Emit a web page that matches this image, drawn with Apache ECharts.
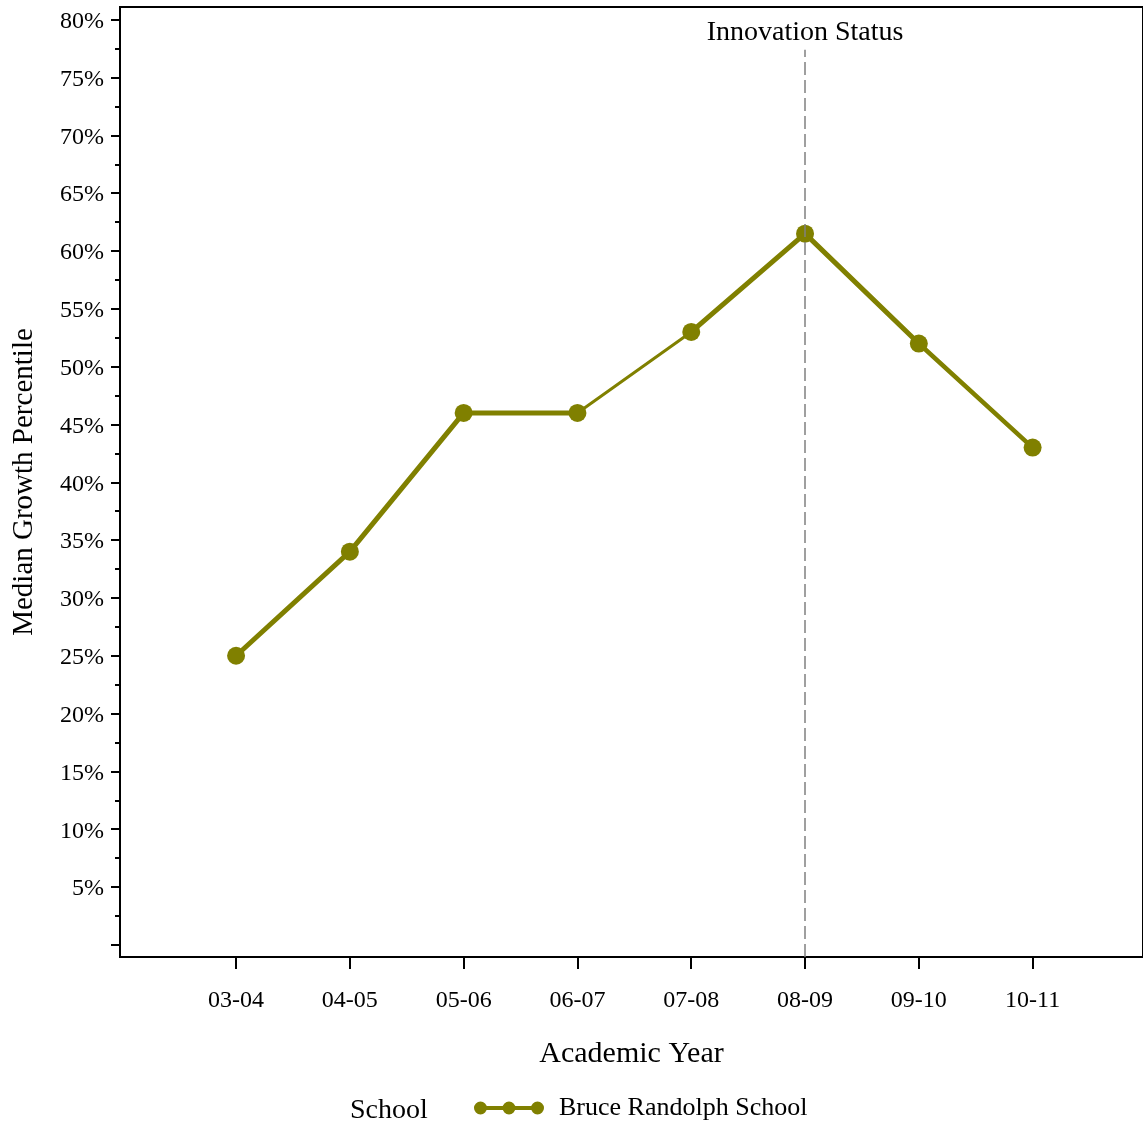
<!DOCTYPE html>
<html>
<head>
<meta charset="utf-8">
<script src="https://cdn.jsdelivr.net/npm/echarts@6/dist/echarts.min.js"></script>
<style>
  html, body { margin: 0; padding: 0; background: #fff; }
  #chart { width: 1143px; height: 1126px; }
</style>
</head>
<body>
<div id="chart"></div>
<script>
// ---- data ----
const years = ['03-04', '04-05', '05-06', '06-07', '07-08', '08-09', '09-10', '10-11'];
const medianGrowth = [25, 34, 46, 46, 53, 61.5, 52, 43];
const segmentWeight = [5, 5, 5, 3, 5, 5, 4.5]; // line thickness between consecutive years
const innovationYear = '08-09';
const yMajorTicks = [0, 5, 10, 15, 20, 25, 30, 35, 40, 45, 50, 55, 60, 65, 70, 75, 80];
const yLabelTicks = [5, 10, 15, 20, 25, 30, 35, 40, 45, 50, 55, 60, 65, 70, 75, 80];
const yMinorTicks = [2.5, 7.5, 12.5, 17.5, 22.5, 27.5, 32.5, 37.5, 42.5, 47.5, 52.5, 57.5, 62.5, 67.5, 72.5, 77.5];
const seriesName = 'Bruce Randolph School';

// ---- chart ----
const OLIVE = '#808000';
const FONT = '"Liberation Serif", "Times New Roman", serif';
const chart = echarts.init(document.getElementById('chart'), null, { renderer: 'canvas' });

const yRange = { min: -1.05, max: 81.1 };
const xIdx = years.map((_, i) => i);
const innovIdx = years.indexOf(innovationYear);

const segmentSeries = [];
for (let i = 0; i < years.length - 1; i++) {
  segmentSeries.push({
    type: 'line',
    name: seriesName,
    data: [[i, medianGrowth[i]], [i + 1, medianGrowth[i + 1]]],
    showSymbol: false,
    symbol: 'none',
    lineStyle: { color: OLIVE, width: segmentWeight[i], cap: 'round', join: 'round' },
    itemStyle: { color: OLIVE },
    silent: true,
    z: 2
  });
}

const legendIcon = 'path://M0,6.5 A6.5,6.5 0 1,1 13,6.5 A6.5,6.5 0 1,1 0,6.5 Z ' +
  'M28.5,6.5 A6.5,6.5 0 1,1 41.5,6.5 A6.5,6.5 0 1,1 28.5,6.5 Z ' +
  'M57,6.5 A6.5,6.5 0 1,1 70,6.5 A6.5,6.5 0 1,1 57,6.5 Z ' +
  'M6.5,4.5 L63.5,4.5 L63.5,8.5 L6.5,8.5 Z';

const option = {
  animation: false,
  backgroundColor: '#fff',
  textStyle: { fontFamily: FONT, color: '#000' },
  title: [{
    text: 'School',
    left: 350,
    top: 1097,
    padding: 0,
    textStyle: { fontFamily: FONT, fontSize: 28, fontWeight: 'normal', color: '#000' }
  }],
  legend: {
    data: [{ name: seriesName, icon: legendIcon }],
    left: 474,
    top: 1095,
    padding: 0,
    itemWidth: 70,
    itemHeight: 13,
    symbolKeepAspect: true,
    itemStyle: { color: OLIVE },
    textStyle: { fontFamily: FONT, fontSize: 26, color: '#000', padding: [4, 0, 0, 10] }
  },
  grid: {
    left: 120, right: 0, top: 7, bottom: 169,
    show: true, borderColor: '#000', borderWidth: 2, backgroundColor: 'transparent'
  },
  xAxis: {
    type: 'value',
    min: -1.02,
    max: 7.97,
    name: 'Academic Year',
    nameLocation: 'middle',
    nameGap: 82,
    nameTextStyle: { fontFamily: FONT, fontSize: 30, color: '#000' },
    axisLine: { show: true, onZero: false, lineStyle: { color: '#000', width: 2 } },
    axisTick: { show: true, length: 12, lineStyle: { color: '#000', width: 2 }, customValues: xIdx },
    axisLabel: {
      fontFamily: FONT, fontSize: 24, color: '#000', margin: 32,
      customValues: xIdx,
      formatter: v => years[Math.round(v)] || ''
    },
    splitLine: { show: false }
  },
  yAxis: [{
    type: 'value',
    min: yRange.min,
    max: yRange.max,
    position: 'left',
    name: 'Median Growth Percentile',
    nameLocation: 'middle',
    nameGap: 81,
    nameTextStyle: { fontFamily: FONT, fontSize: 29, color: '#000' },
    axisLine: { show: true, onZero: false, lineStyle: { color: '#000', width: 2 } },
    axisTick: { show: true, length: 9, lineStyle: { color: '#000', width: 2 }, customValues: yMajorTicks },
    axisLabel: {
      fontFamily: FONT, fontSize: 24, color: '#000', margin: 16,
      verticalAlign: 'top',
      padding: [-10, 0, 0, 0],
      customValues: yLabelTicks,
      formatter: v => v + '%'
    },
    splitLine: { show: false }
  }, {
    type: 'value',
    min: yRange.min,
    max: yRange.max,
    position: 'left',
    axisLine: { show: false, onZero: false },
    axisTick: { show: true, length: 5, lineStyle: { color: '#000', width: 2 }, customValues: yMinorTicks },
    axisLabel: { show: false },
    splitLine: { show: false }
  }],
  series: [
    ...segmentSeries,
    {
      type: 'scatter',
      name: seriesName,
      data: years.map((y, i) => [i, medianGrowth[i]]),
      symbol: 'circle',
      symbolSize: 18,
      itemStyle: { color: OLIVE, opacity: 1 },
      z: 3,
      markLine: {
        silent: true,
        symbol: ['none', 'none'],
        lineStyle: { color: '#808080', width: 1.5, type: [13, 5] },
        label: {
          show: true, position: 'end', distance: 3,
          formatter: 'Innovation Status',
          fontFamily: FONT, fontSize: 28, color: '#000'
        },
        data: [[
          { coord: [innovIdx, yRange.min] },
          { coord: [innovIdx, 77.4] }
        ]]
      }
    }
  ]
};
chart.setOption(option);
</script>
</body>
</html>
